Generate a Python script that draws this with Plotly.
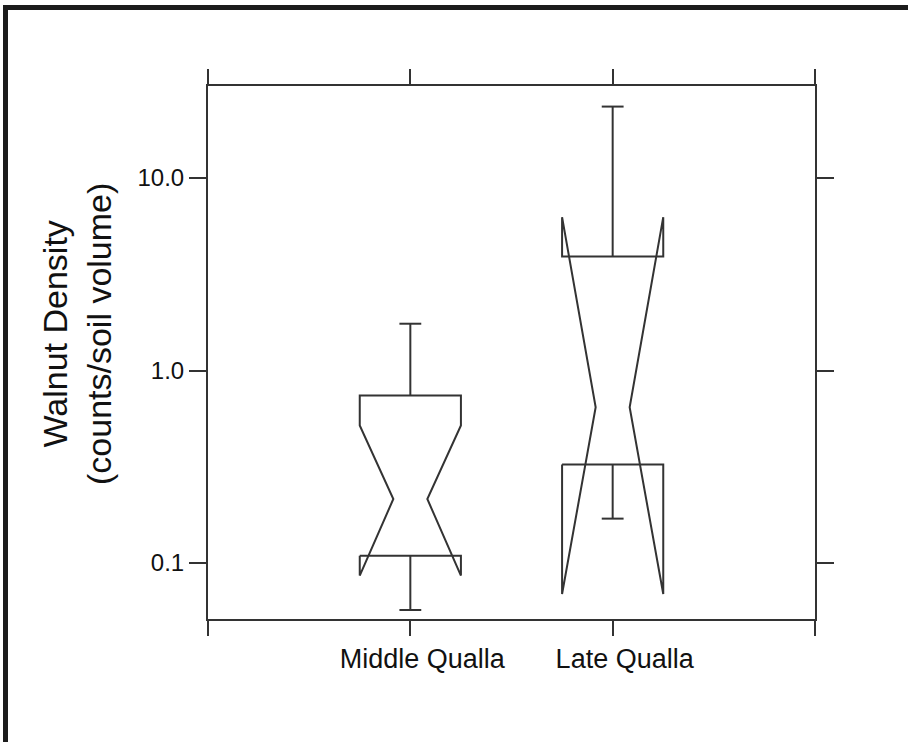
import plotly.graph_objects as go

# ---- data ----
categories = ["Middle Qualla", "Late Qualla"]
positions = [1, 2]
whisker_low = [0.057, 0.170]
q1 = [0.109, 0.325]
median = [0.215, 0.644]
q3 = [0.741, 3.91]
whisker_high = [1.75, 23.5]
notch_low = [0.086, 0.069]
notch_high = [0.518, 6.26]

y_tick_vals = [0.1, 1.0, 10.0]
y_tick_text = ["0.1", "1.0", "10.0"]

# ---- figure geometry ----
W, H = 908, 742
ML, MR, MT, MB = 208, 93, 86, 123
PW, PH = W - ML - MR, H - MT - MB

LINE = "#333333"
TEXT = "#111111"
FONT = "Liberation Sans, Arial, Helvetica, sans-serif"
BOX_HALF = 0.25
NOTCH_HALF = 0.084
CAP_HALF = 0.054

fig = go.Figure()

for i, c in enumerate(positions):
    xs = [c - BOX_HALF, c - BOX_HALF, c - NOTCH_HALF, c - BOX_HALF, c - BOX_HALF,
          c + BOX_HALF, c + BOX_HALF, c + NOTCH_HALF, c + BOX_HALF, c + BOX_HALF,
          c - BOX_HALF]
    ys = [q1[i], notch_low[i], median[i], notch_high[i], q3[i],
          q3[i], notch_high[i], median[i], notch_low[i], q1[i],
          q1[i]]
    fig.add_trace(go.Scatter(x=xs, y=ys, mode="lines",
                             line=dict(color=LINE, width=2), hoverinfo="skip",
                             showlegend=False))
    # whiskers with caps
    wx = [c, c, None, c - CAP_HALF, c + CAP_HALF, None,
          c, c, None, c - CAP_HALF, c + CAP_HALF]
    wy = [q3[i], whisker_high[i], None, whisker_high[i], whisker_high[i], None,
          q1[i], whisker_low[i], None, whisker_low[i], whisker_low[i]]
    fig.add_trace(go.Scatter(x=wx, y=wy, mode="lines",
                             line=dict(color=LINE, width=2), hoverinfo="skip",
                             showlegend=False))

fig.update_xaxes(
    range=[0, 3],
    tickmode="array",
    tickvals=[0] + positions + [3],
    ticktext=[""] + categories + [""],
    ticks="outside", ticklen=15, tickwidth=2, tickcolor=LINE,
    showline=True, linecolor=LINE, linewidth=2, mirror="ticks",
    showgrid=False, zeroline=False,
    tickfont=dict(family=FONT, size=27, color=TEXT),
    ticklabelshift=12,
)
fig.update_yaxes(
    type="log",
    range=[-1.291, 1.478],
    tickmode="array",
    tickvals=y_tick_vals,
    ticktext=y_tick_text,
    ticks="outside", ticklen=17, tickwidth=2, tickcolor=LINE,
    showline=True, linecolor=LINE, linewidth=2, mirror="ticks",
    showgrid=False, zeroline=False,
    tickfont=dict(family=FONT, size=24, color=TEXT),
)

def px_to_paper_x(px):
    return (px - ML) / PW

def px_to_paper_y(py):
    return (H - MB - py) / PH

# frame (top and left borders)
fig.add_shape(type="line", xref="paper", yref="paper",
              x0=px_to_paper_x(3), x1=px_to_paper_x(W + 10),
              y0=px_to_paper_y(7.5), y1=px_to_paper_y(7.5),
              line=dict(color="#1c1c1c", width=5))
fig.add_shape(type="line", xref="paper", yref="paper",
              x0=px_to_paper_x(5.5), x1=px_to_paper_x(5.5),
              y0=px_to_paper_y(5), y1=px_to_paper_y(H + 10),
              line=dict(color="#1c1c1c", width=5))

# y axis title (two lines, rotated)
fig.add_annotation(
    text="Walnut Density<br>(counts/soil volume)",
    xref="paper", yref="paper",
    x=px_to_paper_x(77), y=px_to_paper_y(334),
    xanchor="center", yanchor="middle",
    textangle=-90, showarrow=False,
    font=dict(family=FONT, size=34, color=TEXT),
)

fig.update_layout(
    width=W, height=H,
    margin=dict(l=ML, r=MR, t=MT, b=MB, autoexpand=False),
    paper_bgcolor="white", plot_bgcolor="white",
    showlegend=False,
)

fig.write_html("out.html",
               config={"displayModeBar": False},
               post_script="document.body.style.margin='0px';"
                           "document.body.style.overflow='hidden';")
